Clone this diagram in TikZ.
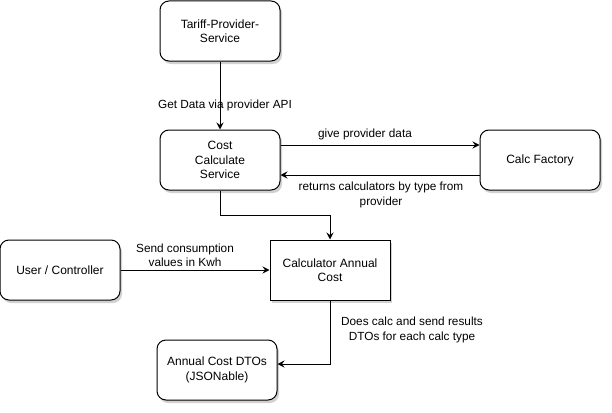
\documentclass[tikz,border=0pt]{standalone}
\usepackage{fontspec}
\setmainfont{Liberation Sans}
\usetikzlibrary{arrows.meta,shadows}
\begin{document}
\begin{tikzpicture}[x=1pt,y=-1pt,
  box/.style={draw=black,line width=1pt,fill=white,minimum width=120pt,minimum height=60pt,
    align=center,inner sep=2pt,font=\fontsize{12}{14.4}\selectfont,
    drop shadow={shadow xshift=2pt,shadow yshift=-3pt,opacity=0.18,fill=black}},
  rbox/.style={box,rounded corners=9pt},
  lbl/.style={align=center,font=\fontsize{11.8}{14.5}\selectfont,inner sep=0pt},
  arr/.style={line width=1pt,-{Stealth[length=7pt,width=7pt,inset=2.5pt]}}]
\useasboundingbox (0,0) rectangle (612,412);
\node[rbox] (tariff) at (220,31) {Tariff-Provider-\\Service};
\node[rbox] (cost) at (220,160) {Cost\\Calculate\\Service};
\node[rbox] (factory) at (540,160) {Calc Factory};
\node[rbox] (user) at (60,270) {User / Controller};
\node[box] (calc) at (330,270) {Calculator Annual\\Cost};
\node[rbox] (dtos) at (217,370) {Annual Cost DTOs\\(JSONable)};

\draw[arr] (tariff.south) -- (cost.north);
\node[lbl] (getdata) at (225,105) {Get Data via provider API};

\draw[arr] ([yshift=15pt]cost.east) -- ([yshift=15pt]factory.west);
\node[lbl] (give) at (365,134) {give provider data};

\draw[arr] ([yshift=-15pt]factory.west) -- ([yshift=-15pt]cost.east);
\node[lbl] (returns) at (381,195) {returns calculators by type from\\provider};

\draw[arr] (cost.south) -- ++(0,25) -| (calc.north);

\draw[arr] (user.east) -- (calc.west);
\node[lbl] (send) at (185,255.5) {Send consumption\\values in Kwh};

\draw[arr] (calc.south) |- ([yshift=6pt]dtos.east);
\node[lbl] (does) at (412,330) {Does calc and send results\\DTOs for each calc type};
\end{tikzpicture}
\end{document}
